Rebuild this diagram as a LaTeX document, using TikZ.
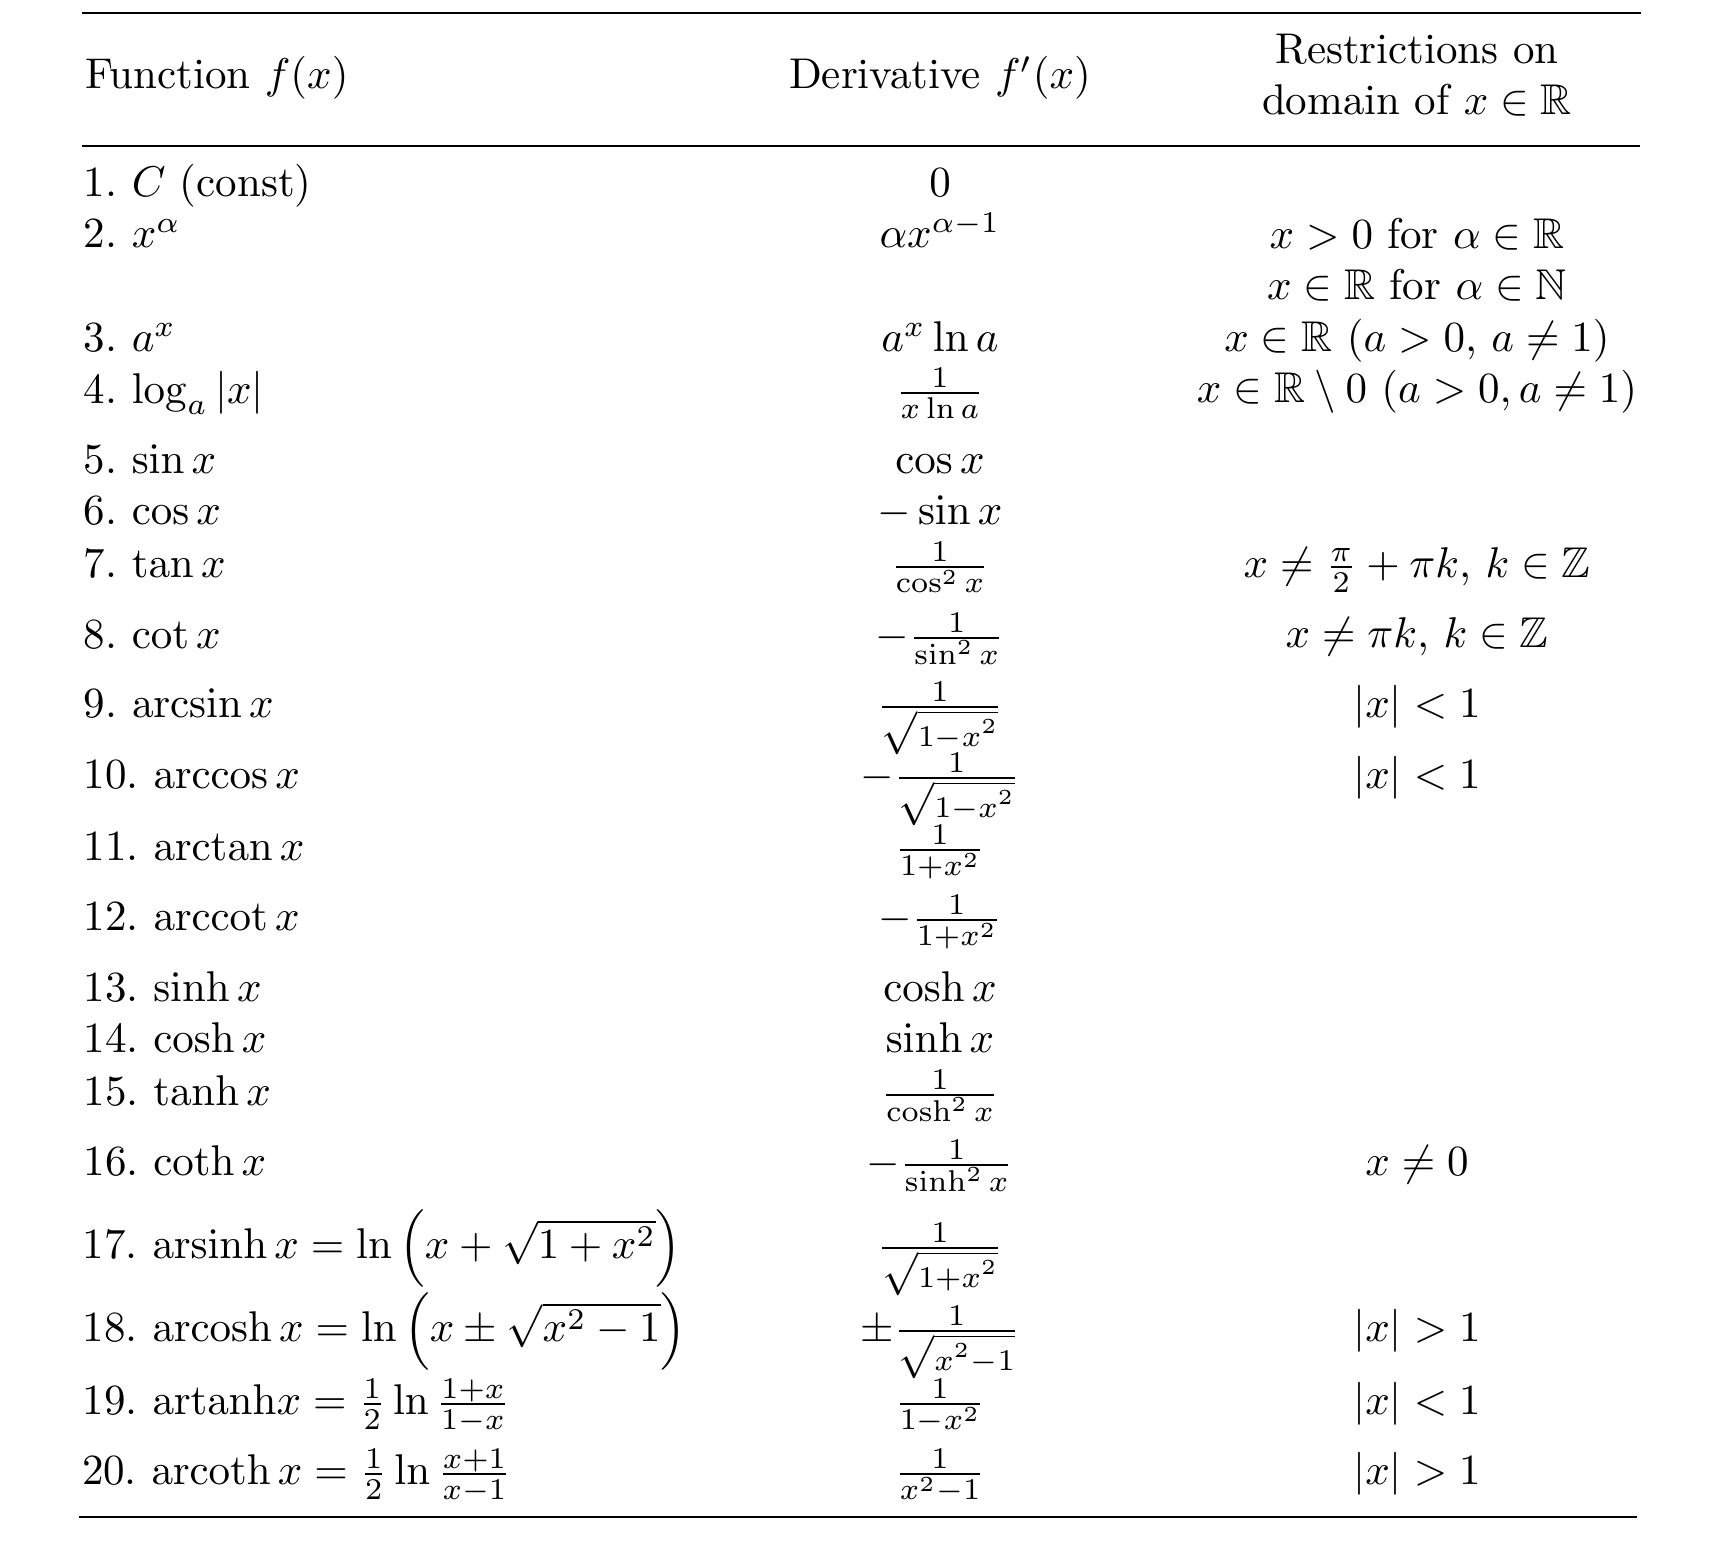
\documentclass[tikz,border=0pt]{standalone}
\usepackage{amsmath,amssymb}
\frenchspacing
\newcommand{\bigrad}[1]{{\textstyle\sqrt{\scriptstyle #1}}}
\begin{document}
\begin{tikzpicture}[x=0.2326pt,y=-0.2326pt,
  cell/.style={inner sep=0pt,outer sep=0pt,font=\fontsize{10}{12}\selectfont},
  lft/.style={cell,anchor=base west},
  mid/.style={cell,anchor=base},
  rgt/.style={cell,anchor=base},
  rulethin/.style={line width=0.45pt},
  rulethick/.style={line width=0.6pt}]
\useasboundingbox (0,0) rectangle (1720,1568);
% rules
\coordinate (t1) at (82,13);   \coordinate (t2) at (1641,13);
\coordinate (h1) at (82,146);  \coordinate (h2) at (1640,146);
\coordinate (b1) at (79,1517); \coordinate (b2) at (1637,1517);
\draw[rulethin] (t1) -- (t2);
\draw[rulethin] (h1) -- (h2);
\draw[rulethick] (b1) -- (b2);
% header
\node[lft] (hf) at (85,89) {Function $f(x)$};
\node[mid] (hd) at (940,89) {Derivative $f'(x)$};
\node[rgt] (hr1) at (1417,64) {Restrictions on};
\node[rgt] (hr2) at (1417,115) {domain of $x\in\mathbb{R}$};
% left column
\node[lft] (l1) at (84,197) {1. $C$ (const)};
\node[lft] (l2) at (84,248) {2. $x^\alpha$};
\node[lft] (l3) at (84,352) {3. $a^x$};
\node[lft] (l4) at (84,404) {4. $\log_a|x|$};
\node[lft] (l5) at (84,474) {5. $\sin x$};
\node[lft] (l6) at (84,525) {6. $\cos x$};
\node[lft] (l7) at (84,578) {7. $\tan x$};
\node[lft] (l8) at (84,649) {8. $\cot x$};
\node[lft] (l9) at (84,718) {9. $\arcsin x$};
\node[lft] (l10) at (84,789) {10. $\arccos x$};
\node[lft] (l11) at (84,861) {11. $\arctan x$};
\node[lft] (l12) at (84,931) {12. $\operatorname{arccot} x$};
\node[lft] (l13) at (84,1002) {13. $\sinh x$};
\node[lft] (l14) at (84,1053) {14. $\cosh x$};
\node[lft] (l15) at (84,1106) {15. $\tanh x$};
\node[lft] (l16) at (84,1176) {16. $\coth x$};
\node[lft] (l17) at (83,1259) {17. $\operatorname{arsinh} x=\ln\,\Bigl(x+\sqrt{1+x^2}\Bigr)$};
\node[lft] (l18) at (83,1342) {18. $\operatorname{arcosh} x=\ln\,\Bigl(x\pm\sqrt{x^2-1}\Bigr)$};
\node[lft] (l19) at (83,1415) {19. $\mathrm{artanh}x=\frac{1}{2}\ln\frac{1+x}{1-x}$};
\node[lft] (l20) at (82,1485) {20. $\operatorname{arcoth} x=\frac{1}{2}\ln\frac{x+1}{x-1}$};
% middle column
\node[mid] (m1) at (940,197) {$0$};
\node[mid] (m2) at (940,248) {$\alpha x^{\alpha-1}$};
\node[mid] (m3) at (940,352) {$a^x\ln a$};
\node[mid] (m4) at (940,404) {$\frac{1}{x\ln a}$};
\node[mid] (m5) at (940,474) {$\cos x$};
\node[mid] (m6) at (940,525) {$-\sin x$};
\node[mid] (m7) at (940,578) {$\frac{1}{\cos^2 x}$};
\node[mid] (m8) at (940,649) {$-\frac{1}{\sin^2 x}$};
\node[mid] (m9) at (940,718) {$\frac{1}{\bigrad{1-x^2}}$};
\node[mid] (m10) at (940,789) {$-\frac{1}{\bigrad{1-x^2}}$};
\node[mid] (m11) at (940,861) {$\frac{1}{1+x^2}$};
\node[mid] (m12) at (940,931) {$-\frac{1}{1+x^2}$};
\node[mid] (m13) at (940,1002) {$\cosh x$};
\node[mid] (m14) at (940,1053) {$\sinh x$};
\node[mid] (m15) at (940,1106) {$\frac{1}{\cosh^2 x}$};
\node[mid] (m16) at (940,1176) {$-\frac{1}{\sinh^2 x}$};
\node[mid] (m17) at (940,1259) {$\frac{1}{\bigrad{1+x^2}}$};
\node[mid] (m18) at (940,1342) {$\pm\frac{1}{\bigrad{x^2-1}}$};
\node[mid] (m19) at (940,1415) {$\frac{1}{1-x^2}$};
\node[mid] (m20) at (940,1485) {$\frac{1}{x^2-1}$};
% right column
\node[rgt] (r2) at (1417,249) {$x>0$ for $\alpha\in\mathbb{R}$};
\node[rgt] (r2b) at (1417,300) {$x\in\mathbb{R}$ for $\alpha\in\mathbb{N}$};
\node[rgt] (r3) at (1417,352) {$x\in\mathbb{R}$ $(a>0$, $a\neq 1)$};
\node[rgt] (r4) at (1417,403) {$x\in\mathbb{R}\setminus 0$ $(a>0,a\neq 1)$};
\node[rgt] (r7) at (1417,578) {$x\neq\frac{\pi}{2}+\pi k$, $k\in\mathbb{Z}$};
\node[rgt] (r8) at (1417,648) {$x\neq\pi k$, $k\in\mathbb{Z}$};
\node[rgt] (r9) at (1417,718) {$|x|<1$};
\node[rgt] (r10) at (1417,789) {$|x|<1$};
\node[rgt] (r16) at (1417,1176) {$x\neq 0$};
\node[rgt] (r18) at (1417,1342) {$|x|>1$};
\node[rgt] (r19) at (1417,1415) {$|x|<1$};
\node[rgt] (r20) at (1417,1485) {$|x|>1$};
\end{tikzpicture}
\end{document}
